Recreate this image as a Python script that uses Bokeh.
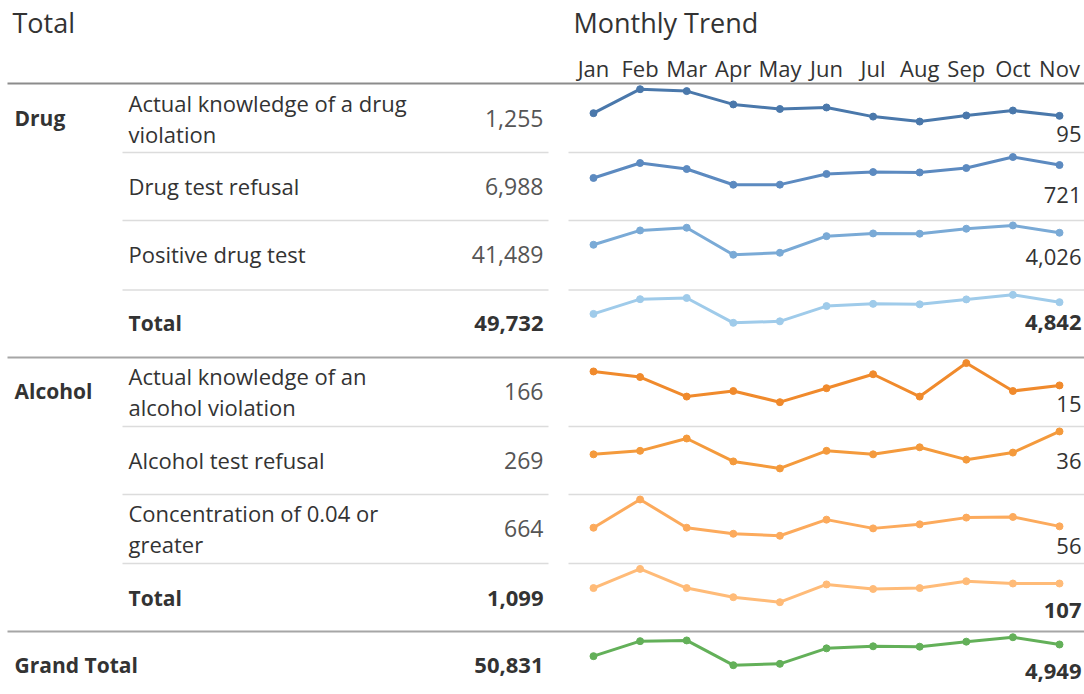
from bokeh.plotting import figure
from bokeh.models import Range1d
from bokeh.core.properties import value
from bokeh.embed import file_html
from bokeh.resources import INLINE

# ---------------- data ----------------
months = ["Jan", "Feb", "Mar", "Apr", "May", "Jun", "Jul", "Aug", "Sep", "Oct", "Nov"]

drug_knowledge = [102, 165, 160, 125, 113, 117, 93, 80, 96, 109, 95]
drug_refusal = [553, 747, 669, 465, 466, 605, 630, 625, 682, 825, 721]
drug_positive = [3197, 4185, 4371, 2507, 2645, 3791, 3978, 3957, 4302, 4530, 4026]
drug_total = [3852, 5097, 5200, 3097, 3224, 4513, 4701, 4662, 5080, 5464, 4842]
alcohol_knowledge = [20, 18, 11, 13, 9, 14, 19, 11, 23, 13, 15]
alcohol_refusal = [23, 25, 32, 19, 15, 25, 23, 27, 20, 24, 36]
alcohol_concentration = [54, 96, 54, 45, 42, 66, 53, 59, 69, 70, 56]
alcohol_total = [97, 139, 97, 77, 66, 105, 95, 97, 112, 107, 107]
grand_total = [3949, 5236, 5297, 3174, 3290, 4618, 4796, 4759, 5192, 5571, 4949]

row_labels = [
    ["Actual knowledge of a drug", "violation"],
    ["Drug test refusal"],
    ["Positive drug test"],
    ["Total"],
    ["Actual knowledge of an", "alcohol violation"],
    ["Alcohol test refusal"],
    ["Concentration of 0.04 or", "greater"],
    ["Total"],
    [],
]
group_labels = ["Drug", "Alcohol", "Grand Total"]
series = [drug_knowledge, drug_refusal, drug_positive, drug_total,
          alcohol_knowledge, alcohol_refusal, alcohol_concentration, alcohol_total,
          grand_total]

# ---------------- layout / style ----------------
FONT = "Open Sans"
W, H = 1084, 694
colors = ["#4a78ab", "#5c8ac0", "#7aaad6", "#9fcbea",
          "#f08a2c", "#f49a3c", "#fcaa5c", "#ffbb78", "#63b059"]
bold_rows = [False, False, False, True, False, False, False, True, True]
axis_max = [180, 884, 4870, 5875, 25, 38.8, 103.4, 150.9, 6064]
band = [(151.5, 83), (220, 152), (290.6, 220), (358.9, 289.5), (426.8, 357),
        (494.4, 426), (563.5, 494), (631.8, 563), (701.7, 631)]
row_center = [117.5, 185.5, 253.5, 322.5, 390.5, 459.5, 527.5, 597.5, 664.5]
nov_label_y = [133.5, 194.5, 256.5, 321.5, 403.5, 460, 545, 610, 670.5]
group_y = [117.5, 390.5, 664.5]
spark_x = (593, 1059)

p = figure(width=W, height=H, x_range=Range1d(0, W), y_range=Range1d(H, 0),
           output_backend="svg", toolbar_location=None, min_border=0,
           x_axis_location=None, y_axis_location=None)
p.grid.visible = False
p.outline_line_color = None


def txt(x, y, s, size="22px", color="#333333", align="left", bold=False):
    p.text(x=[x], y=[y], text=[s], text_font=value(FONT), text_font_size=size,
           text_color=color, text_align=align, text_baseline="middle",
           text_font_style="bold" if bold else "normal")


# headers
txt(12, 22, "Total", size="27px")
txt(573, 22, "Monthly Trend", size="27px")
mh = p.subplot(x_source=Range1d(0, 10), y_source=Range1d(0, 1),
               x_target=Range1d(*spark_x), y_target=Range1d(67, 68))
mh.text(x=list(range(len(months))), y=[0] * len(months), text=months,
        text_font=value(FONT), text_font_size="22px", text_color="#333333",
        text_align="center", text_baseline="middle")

# separators
p.segment(x0=[7], y0=[83], x1=[1084], y1=[83], line_color="#8c8c8c", line_width=2)
for yy in [357, 631]:
    p.segment(x0=[7], y0=[yy], x1=[1084], y1=[yy], line_color="#a6a6a6", line_width=2)
for yy in [152, 220, 289.5, 426, 494, 563]:
    p.segment(x0=[122, 568], y0=[yy, yy], x1=[548, 1084], y1=[yy, yy],
              line_color="#dcdcdc", line_width=1.5)

# group labels
for g, gy in zip(group_labels, group_y):
    txt(14, gy, g, bold=True, size="21px")

# rows
for i, vals in enumerate(series):
    lines = row_labels[i]
    c = row_center[i]
    b = bold_rows[i]
    if len(lines) == 2:
        txt(128, c - 15.5, lines[0])
        txt(128, c + 15.5, lines[1])
    elif len(lines) == 1:
        txt(128, c, lines[0], bold=b, size="21px" if b else "22px")
    tot = f"{sum(vals):,}"
    txt(543, c, tot, align="right", bold=b,
        color="#333333" if b else "#555555", size="22px" if b else "23px")
    y0, y1 = band[i]
    sub = p.subplot(x_source=Range1d(0, 10), y_source=Range1d(0, axis_max[i]),
                    x_target=Range1d(*spark_x), y_target=Range1d(y0, y1))
    xs = list(range(len(vals)))
    sub.line(x=xs, y=vals, line_color=colors[i], line_width=3)
    sub.scatter(x=xs, y=vals, size=7, fill_color=colors[i], line_color=colors[i])
    txt(1081, nov_label_y[i], f"{vals[-1]:,}", align="right", bold=b,
        color="#333333", size="22px")

open("out.html", "w").write(file_html(p, INLINE))
